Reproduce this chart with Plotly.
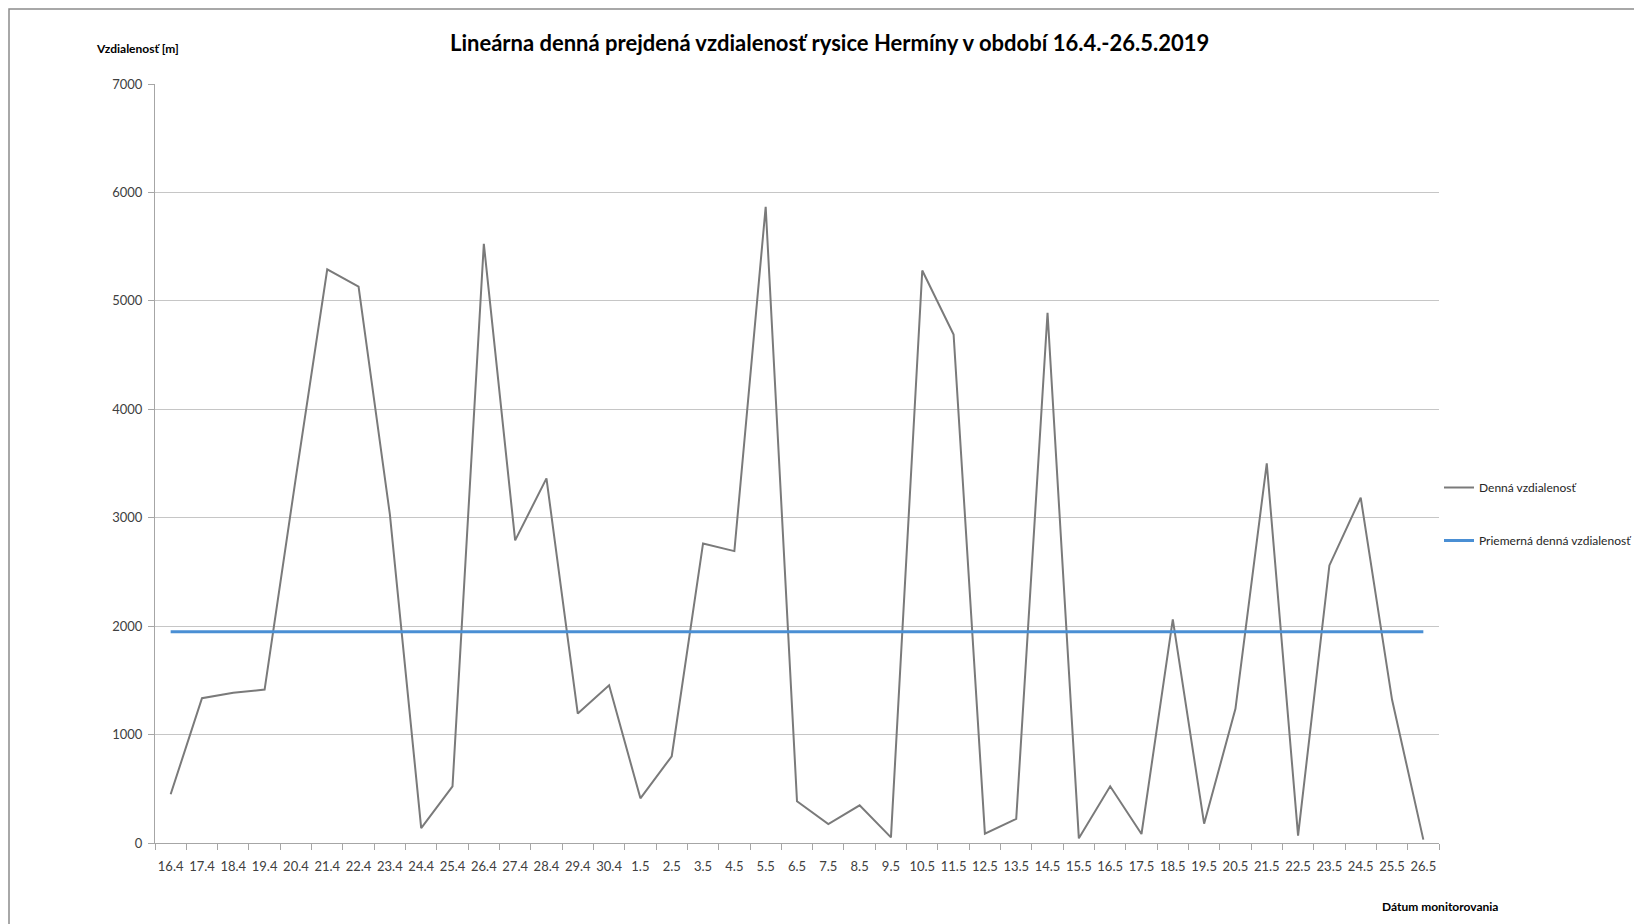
import plotly.graph_objects as go

dates = ["16.4", "17.4", "18.4", "19.4", "20.4", "21.4", "22.4", "23.4", "24.4", "25.4",
         "26.4", "27.4", "28.4", "29.4", "30.4", "1.5", "2.5", "3.5", "4.5", "5.5",
         "6.5", "7.5", "8.5", "9.5", "10.5", "11.5", "12.5", "13.5", "14.5", "15.5",
         "16.5", "17.5", "18.5", "19.5", "20.5", "21.5", "22.5", "23.5", "24.5", "25.5", "26.5"]
daily = [450, 1335, 1385, 1415, 3375, 5290, 5132, 3030, 138, 523,
         5526, 2791, 3363, 1194, 1455, 412, 800, 2763, 2692, 5868,
         385, 175, 348, 52, 5280, 4690, 86, 222, 4890, 43,
         523, 83, 2062, 178, 1237, 3502, 68, 2560, 3185, 1323, 31]
average_value = 1948
average = [average_value] * len(dates)

W, H = 1642, 924
OFF = 8  # page body margin offset (screen -> figure coordinates)
L, R, T, B = 155 - OFF, 1439 - OFF, 84 - OFF, 843 - OFF
pw, ph = R - L, B - T

FONT = "Lato, Carlito, Calibri, sans-serif"

fig = go.Figure()
fig.add_trace(go.Scatter(x=dates, y=daily, mode="lines", name="Denná vzdialenosť",
                         legendgroup="g1",
                         line=dict(color="#7a7a7a", width=2)))
fig.add_trace(go.Scatter(x=dates, y=average, mode="lines", name="Priemerná denná vzdialenosť",
                         legendgroup="g2",
                         line=dict(color="#4a8fd4", width=3)))

def px(sx):
    return (sx - OFF - L) / pw

def py(sy):
    return (B - (sy - OFF)) / ph

fig.update_layout(
    width=W, height=H,
    margin=dict(l=L, r=W - R, t=T, b=H - B, autoexpand=False),
    paper_bgcolor="white", plot_bgcolor="white",
    font=dict(family=FONT, color="#404040", size=13),
    showlegend=True,
    legend=dict(x=px(1439), y=py(473), xanchor="left", yanchor="top",
                font=dict(size=12, color="#262626", family=FONT),
                tracegroupgap=34, itemwidth=30, bgcolor="rgba(0,0,0,0)"),
    xaxis=dict(type="category", range=[-0.5, len(dates) - 0.5],
               showgrid=False, showline=True, linecolor="#a6a6a6", linewidth=1,
               ticks="outside", ticklen=6, tickcolor="#a6a6a6", tickson="boundaries",
               tickangle=0,
               tickfont=dict(size=13, color="#404040", family=FONT),
               ticklabelstandoff=11, zeroline=False),
    yaxis=dict(range=[0, 7000], dtick=1000, showgrid=True, gridcolor="#c6c6c6", gridwidth=1,
               showline=True, linecolor="#a6a6a6", linewidth=1,
               ticks="outside", ticklen=6, tickcolor="#a6a6a6",
               tickfont=dict(size=13, color="#404040", family=FONT),
               ticklabelstandoff=3, zeroline=False),
    shapes=[dict(type="rect", xref="paper", yref="paper",
                 x0=px(OFF + 1), x1=px(1700), y0=py(1000), y1=py(OFF + 1),
                 line=dict(color="#8c8c8c", width=1.5), fillcolor="rgba(0,0,0,0)", layer="below")],
    annotations=[
        dict(text="<b>Lineárna denná prejdená vzdialenosť rysice Hermíny v období 16.4.-26.5.2019</b>",
             xref="paper", yref="paper", x=px(829), y=py(42), xanchor="center", yanchor="middle",
             showarrow=False, font=dict(size=22, color="#000000", family=FONT)),
        dict(text="<b>Vzdialenosť [m]</b>", xref="paper", yref="paper",
             x=px(94), y=py(48), xanchor="left", yanchor="middle",
             showarrow=False, font=dict(size=12, color="#000000", family=FONT)),
        dict(text="<b>Dátum monitorovania</b>", xref="paper", yref="paper",
             x=px(1380), y=py(906), xanchor="left", yanchor="middle",
             showarrow=False, font=dict(size=12, color="#000000", family=FONT)),
    ],
)

fig.write_html("out.html")
